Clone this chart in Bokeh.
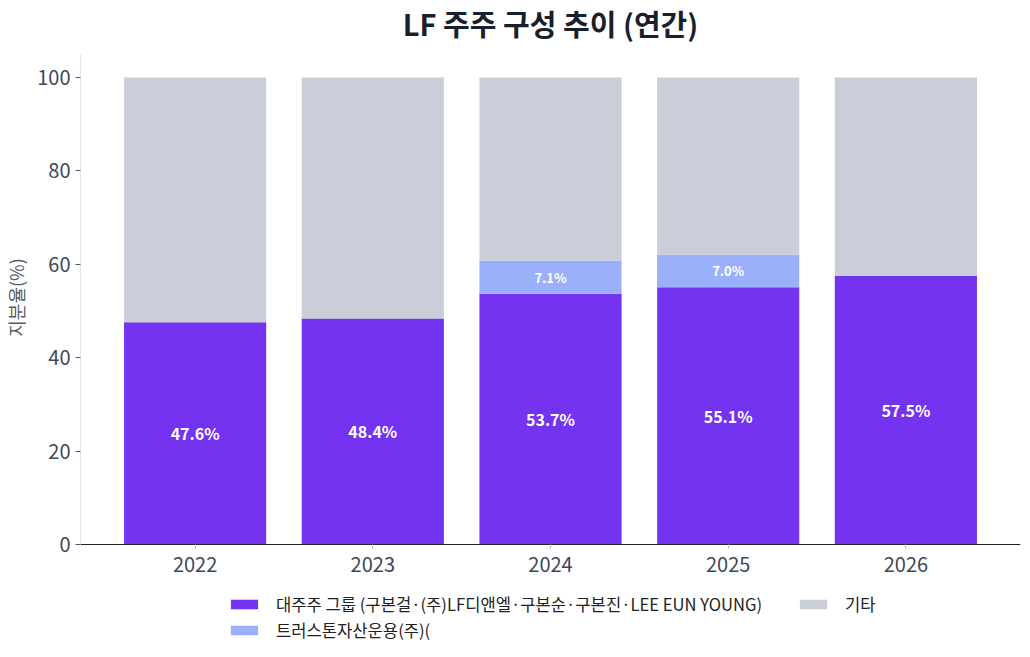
from bokeh.plotting import figure
from bokeh.models import ColumnDataSource, Range1d, FactorRange, Legend, LegendItem, FixedTicker, LabelSet, Label
from bokeh.core.properties import value
from bokeh.embed import file_html
from bokeh.resources import INLINE

years = ["2022", "2023", "2024", "2025", "2026"]
major = [47.6, 48.4, 53.7, 55.1, 57.5]
trust = [0.0, 0.0, 7.1, 7.0, 0.0]
other = [round(100 - a - b, 1) for a, b in zip(major, trust)]
series_names = ["대주주 그룹 (구본걸·(주)LF디앤엘·구본순·구본진·LEE EUN YOUNG)", "트러스톤자산운용(주)(", "기타"]
colors = ["#7433F0", "#9BB0FB", "#C9CED8"]
y_ticks = [0, 20, 40, 60, 80, 100]
title_text = "LF 주주 구성 추이 (연간)"
y_label = "지분율(%)"

FONT = "Noto Sans CJK KR"

src = ColumnDataSource(dict(x=years, major=major, trust=trust, other=other))

# frame spans the whole figure height; axis spine limited by bounds
p = figure(frame_width=940, frame_height=641, x_range=FactorRange(*years, range_padding=0.058),
           y_range=Range1d(-22.5, 114.8), output_backend="svg", toolbar_location=None,
           min_border_left=72, min_border_right=2, min_border_top=8, min_border_bottom=0)

rs = p.vbar_stack(["major", "trust", "other"], x="x", width=0.8, source=src,
                  color=colors, line_color=None)

# value labels
lab_major = ColumnDataSource(dict(x=years, y=[m / 2 for m in major], t=[f"{m:.1f}%" for m in major]))
p.add_layout(LabelSet(x="x", y="y", text="t", source=lab_major, text_align="center",
                      text_baseline="middle", text_color="white", text_font=value(FONT),
                      text_font_size=value("16px"), text_font_style="bold"))
tx, ty, tt = [], [], []
for yr, m, t in zip(years, major, trust):
    if t > 0:
        tx.append(yr); ty.append(m + t / 2); tt.append(f"{t:.1f}%")
lab_trust = ColumnDataSource(dict(x=tx, y=ty, t=tt))
p.add_layout(LabelSet(x="x", y="y", text="t", source=lab_trust, text_align="center",
                      text_baseline="middle", text_color="white", text_font=value(FONT),
                      text_font_size=value("13px"), text_font_style="bold"))

# title as a text label at the top of the frame
p.add_layout(Label(x=470, y=627, x_units="screen", y_units="screen", text=title_text,
                   text_align="center", text_baseline="middle", text_font=FONT,
                   text_font_size="29px", text_font_style="bold", text_color="#1A1F2E"))

p.grid.visible = False
p.outline_line_color = None

p.yaxis.ticker = FixedTicker(ticks=y_ticks)
p.yaxis.bounds = (0, 105)
# leading wide spaces shift the centred label up to the middle of the 0-105 span
p.yaxis.axis_label = "\u3000\u3000\u3000\u2002" + y_label
p.yaxis.axis_label_text_font = FONT
p.yaxis.axis_label_text_font_size = "18px"
p.yaxis.axis_label_text_font_style = "normal"
p.yaxis.axis_label_text_color = "#555B66"
p.yaxis.axis_line_color = "#E3E3E3"
p.yaxis.major_tick_line_color = "#555B66"
p.yaxis.major_tick_out = 5
p.yaxis.major_tick_in = 0
p.yaxis.minor_tick_line_color = None
p.yaxis.major_label_text_font = FONT
p.yaxis.major_label_text_font_size = "20px"
p.yaxis.major_label_text_color = "#3D4859"

p.xaxis.fixed_location = 0
p.xaxis.axis_line_color = "#222222"
p.xaxis.major_tick_line_color = "#BBBBBB"
p.xaxis.major_tick_out = 4
p.xaxis.major_tick_in = 0
p.xaxis.major_label_text_font = FONT
p.xaxis.major_label_text_font_size = "20px"
p.xaxis.major_label_text_color = "#3D4859"
p.xaxis.major_label_standoff = 9

common = dict(orientation="horizontal", label_text_font=FONT, label_text_font_size="16.6px",
              label_text_color="#222222", glyph_width=34, glyph_height=12, spacing=34,
              margin=0, padding=0, label_standoff=15, border_line_color=None,
              background_fill_alpha=0)
leg_a = Legend(items=[LegendItem(label=series_names[0], renderers=[rs[0]]),
                      LegendItem(label=series_names[2], renderers=[rs[2]])],
               location=(147, 33), **common)
leg_b = Legend(items=[LegendItem(label=series_names[1], renderers=[rs[1]])],
               location=(147, 7), **common)
p.add_layout(leg_a)
p.add_layout(leg_b)

open("out.html", "w").write(file_html(p, INLINE))
